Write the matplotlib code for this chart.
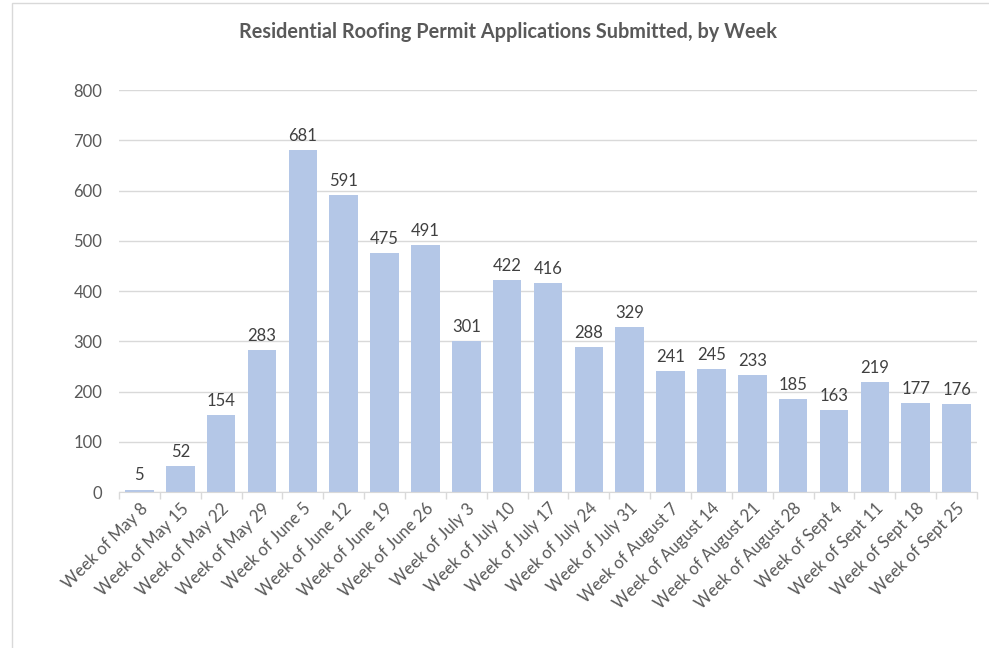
import numpy as np
import matplotlib
matplotlib.use("Agg")
import matplotlib.pyplot as plt
from matplotlib.patches import Rectangle

weeks = [
    "Week of May 8", "Week of May 15", "Week of May 22", "Week of May 29",
    "Week of June 5", "Week of June 12", "Week of June 19", "Week of June 26",
    "Week of July 3", "Week of July 10", "Week of July 17", "Week of July 24",
    "Week of July 31", "Week of August 7", "Week of August 14",
    "Week of August 21", "Week of August 28", "Week of Sept 4",
    "Week of Sept 11", "Week of Sept 18", "Week of Sept 25",
]
permits = [5, 52, 154, 283, 681, 591, 475, 491, 301, 422, 416, 288, 329,
           241, 245, 233, 185, 163, 219, 177, 176]
y_ticks = [0, 100, 200, 300, 400, 500, 600, 700, 800]

GRAY = "#595959"
GRID = "#d9d9d9"
BAR = "#b4c7e7"
plt.rcParams["font.family"] = ["Lato", "DejaVu Sans"]

fig = plt.figure(figsize=(9.89, 6.48), dpi=100)
ax = fig.add_axes([0.1203, 0.2407, 0.8676, 0.6204])

x = np.arange(len(weeks))
ax.bar(x, permits, width=0.7, color=BAR, zorder=3)
for xi, v in zip(x, permits):
    ax.text(xi, v + 12, str(v), ha="center", va="bottom", color="#404040",
            fontsize=12)

ax.set_xlim(-0.5, len(weeks) - 0.5)
ax.set_ylim(0, 800)
ax.set_yticks(y_ticks)
ax.set_yticklabels([str(t) for t in y_ticks], color=GRAY, fontsize=12)
ax.tick_params(axis="y", length=0, pad=12)
ax.grid(axis="y", color=GRID, lw=1, zorder=0)

# category labels, ticks at category boundaries like Excel
ax.set_xticks(x)
ax.set_xticklabels(weeks, rotation=45, ha="right", rotation_mode="anchor",
                   color=GRAY, fontsize=12)
ax.tick_params(axis="x", length=0, pad=6)
ax.set_xticks(np.arange(len(weeks) + 1) - 0.5, minor=True)
ax.tick_params(axis="x", which="minor", length=5, color=GRID, width=1)

for side in ["top", "right", "left"]:
    ax.spines[side].set_visible(False)
ax.spines["bottom"].set_color(GRID)
ax.spines["bottom"].set_zorder(4)

fig.text(0.514, 0.951, "Residential Roofing Permit Applications Submitted, by Week",
         ha="center", va="center", fontsize=14.3, fontweight="bold", color=GRAY)

# chart-area border (partially cropped in the original)
fig.add_artist(Rectangle((12 / 989, -0.05), 1.2, (645 / 648) + 0.05,
                         transform=fig.transFigure, fill=False,
                         edgecolor=GRID, lw=1))

fig.savefig("out.png", dpi=100)
